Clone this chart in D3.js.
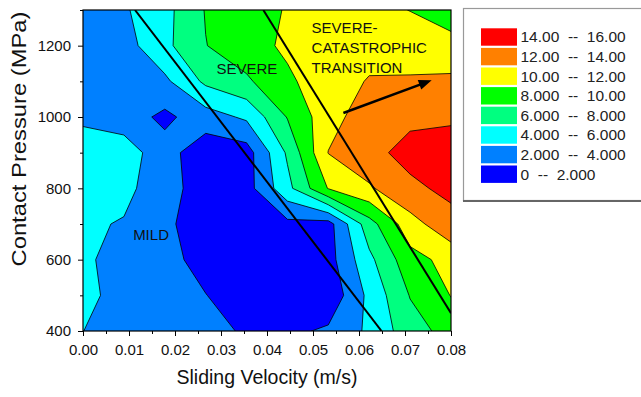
<!DOCTYPE html>
<html>
<head>
<meta charset="utf-8">
<script src="https://cdn.jsdelivr.net/npm/d3@7/dist/d3.min.js"></script>
<style>
  html, body { margin: 0; padding: 0; background: #ffffff; }
  svg { display: block; }
  text { font-family: Arial, "Liberation Sans", Helvetica, sans-serif; fill: #000; }
</style>
</head>
<body>
<svg id="chart" width="641" height="397"></svg>
<script>
// Sliding velocity (m/s) of each grid column
const velocities = [0, 0.00889, 0.01778, 0.02667, 0.03556, 0.04444, 0.05333, 0.06222, 0.07111, 0.08];
// Contact pressure (MPa) of each grid row
const pressures = [400, 500, 600, 700, 800, 900, 1000, 1100, 1200, 1300];
// Wear rate: one row per pressure (400 -> 1300), one column per velocity
const wear400  = [4.02, 3.00, 2.90, 2.60, 1.77, 1.55, 2.31, 4.37, 7.13, 8.77];
const wear500  = [4.75, 3.00, 2.90, 2.05, 0.80, 0.60, 0.50, 4.50, 8.10, 10.06];
const wear600  = [4.36, 3.20, 2.70, 1.21, 0.40, 0.50, 1.20, 5.50, 9.30, 10.65];
const wear700  = [4.45, 3.79, 2.50, 0.65, 0.50, 1.49, 1.20, 7.20, 11.20, 13.40];
const wear800  = [5.00, 4.80, 2.22, 1.73, 1.20, 5.40, 10.10, 11.73, 13.63, 14.43];
const wear900  = [5.10, 5.02, 2.80, 0.70, 1.10, 6.30, 12.05, 13.50, 14.56, 15.00];
const wear1000 = [3.60, 2.96, 1.55, 3.10, 4.34, 8.11, 11.26, 13.06, 13.63, 13.68];
const wear1100 = [3.20, 3.30, 3.60, 6.40, 7.70, 9.60, 11.30, 12.10, 12.15, 12.20];
const wear1200 = [3.00, 3.20, 5.50, 7.95, 9.10, 10.40, 10.90, 11.47, 11.32, 11.29];
const wear1300 = [3.20, 3.76, 5.37, 8.11, 9.30, 10.11, 10.50, 10.67, 9.95, 8.06];
const wearRows = [wear400, wear500, wear600, wear700, wear800, wear900, wear1000, wear1100, wear1200, wear1300];

// Contour levels and the fill of each band between them
const levels = [0, 2, 4, 6, 8, 10, 12, 14, 16];
const bandColors = ["#0000ff", "#0080ff", "#00ffff", "#00ff80", "#00ff00", "#ffff00", "#ff8000", "#ff0000"];
const legendLabels = ["14.00  --  16.00", "12.00  --  14.00", "10.00  --  12.00", "8.000  --  10.00",
                      "6.000  --  8.000", "4.000  --  6.000", "2.000  --  4.000", "0  --  2.000"];

// Axis ticks
const xTickValues = [0, 0.01, 0.02, 0.03, 0.04, 0.05, 0.06, 0.07, 0.08];
const xMinorValues = [0.005, 0.015, 0.025, 0.035, 0.045, 0.055, 0.065, 0.075];
const yTickValues = [400, 600, 800, 1000, 1200];
const yMinorValues = [500, 700, 900, 1100, 1300];

// Regime boundaries and annotations, in data units [velocity, pressure]
const mildSevereLine = [[0.0113, 1300], [0.0649, 400]];
const catastrophicLine = [[0.0392, 1300], [0.0800, 450]];
const transitionArrow = [[0.0566, 1011], [0.0758, 1103]];
const regionLabels = [
  { lines: ["SEVERE"], v: 0.0290, p: 1121 },
  { lines: ["MILD"], v: 0.0109, p: 654 },
  { lines: ["SEVERE-", "CATASTROPHIC", "TRANSITION"], v: 0.0497, p: 1235 }
];

const svg = d3.select("#chart");
const plot = { left: 83, right: 451, top: 10, bottom: 331 };
const x = d3.scaleLinear().domain([0, 0.08]).range([plot.left, plot.right]);
const y = d3.scaleLinear().domain([400, 1300]).range([plot.bottom, plot.top]);

// Grid sample i sits at contour coordinate i + 0.5
const nx = velocities.length, ny = pressures.length;
const colToV = d3.scaleLinear().domain(velocities.map((_, i) => i + 0.5)).range(velocities);
const rowToP = d3.scaleLinear().domain(pressures.map((_, j) => j + 0.5)).range(pressures);
const project = d3.geoTransform({
  point(u, w) { this.stream.point(x(colToV(u)), y(rowToP(w))); }
});
const path = d3.geoPath(project);

// Each contour encloses the area at or below its level (values negated for d3.contours)
const flat = [];
wearRows.forEach(row => row.forEach(v => flat.push(-v)));
const bands = d3.contours()
  .size([nx, ny])
  .thresholds(levels.slice(1).map(t => -t))(flat);

const defs = svg.append("defs");
defs.append("clipPath").attr("id", "plot-clip")
  .append("rect")
  .attr("x", plot.left).attr("y", plot.top)
  .attr("width", plot.right - plot.left).attr("height", plot.bottom - plot.top);

const gBands = svg.append("g").attr("clip-path", "url(#plot-clip)");
gBands.selectAll("path.band").data(bands).join("path")
  .attr("class", "band")
  .attr("d", path)
  .attr("fill", d => bandColors[levels.indexOf(-d.value) - 1])
  .attr("stroke", "#000")
  .attr("stroke-width", 0.8)
  .attr("stroke-linejoin", "round");

// Regime boundary lines
const line = d3.line().x(d => x(d[0])).y(d => y(d[1]));
const gNotes = svg.append("g").attr("clip-path", "url(#plot-clip)");
[mildSevereLine, catastrophicLine].forEach(seg => {
  gNotes.append("path").attr("d", line(seg))
    .attr("fill", "none").attr("stroke", "#000").attr("stroke-width", 2);
});

// Transition arrow
{
  const [a, b] = transitionArrow.map(d => [x(d[0]), y(d[1])]);
  const dx = b[0] - a[0], dy = b[1] - a[1];
  const len = Math.hypot(dx, dy);
  const ux = dx / len, uy = dy / len;
  const head = 13, half = 5;
  const base = [b[0] - ux * head, b[1] - uy * head];
  gNotes.append("line")
    .attr("x1", a[0]).attr("y1", a[1]).attr("x2", base[0] + ux * 2).attr("y2", base[1] + uy * 2)
    .attr("stroke", "#000").attr("stroke-width", 2.6);
  gNotes.append("path")
    .attr("d", `M${b[0]},${b[1]}L${base[0] - uy * half},${base[1] + ux * half}L${base[0] + uy * half},${base[1] - ux * half}Z`)
    .attr("fill", "#000");
}

// Region labels
regionLabels.forEach(lab => {
  const t = svg.append("text")
    .attr("x", x(lab.v)).attr("y", y(lab.p))
    .attr("font-size", 15).style("fill", "#111");
  lab.lines.forEach((s, i) => {
    t.append("tspan").attr("x", x(lab.v)).attr("dy", i === 0 ? 0 : 20).text(s);
  });
});

// Plot frame
svg.append("rect")
  .attr("x", plot.left).attr("y", plot.top)
  .attr("width", plot.right - plot.left).attr("height", plot.bottom - plot.top)
  .attr("fill", "none").attr("stroke", "#000").attr("stroke-width", 1.2);

// Axes
const styleAxis = g => {
  g.select(".domain").remove();
  g.selectAll(".tick line").attr("stroke", "#000").attr("stroke-width", 1);
  g.selectAll(".tick text").attr("font-size", 15).style("fill", "#111")
    .attr("font-family", "Arial, 'Liberation Sans', sans-serif");
};
svg.append("g").attr("transform", `translate(0,${plot.bottom})`)
  .call(d3.axisBottom(x).tickValues(xMinorValues).tickSize(3).tickFormat(""))
  .call(styleAxis);
svg.append("g").attr("transform", `translate(0,${plot.bottom})`)
  .call(d3.axisBottom(x).tickValues(xTickValues).tickSize(5).tickPadding(8).tickFormat(d3.format(".2f")))
  .call(styleAxis);
svg.append("g").attr("transform", `translate(${plot.left},0)`)
  .call(d3.axisLeft(y).tickValues(yMinorValues).tickSize(3).tickFormat(""))
  .call(styleAxis);
svg.append("g").attr("transform", `translate(${plot.left},0)`)
  .call(d3.axisLeft(y).tickValues(yTickValues).tickSize(5).tickPadding(7).tickFormat(d3.format("d")))
  .call(styleAxis);

// Axis titles
svg.append("text")
  .attr("x", (plot.left + plot.right) / 2).attr("y", 384)
  .attr("text-anchor", "middle").attr("font-size", 19.5).style("fill", "#111")
  .text("Sliding Velocity (m/s)");
svg.append("text")
  .attr("transform", "translate(26,139) rotate(-90)")
  .attr("text-anchor", "middle").attr("font-size", 19.5).style("fill", "#111")
  .attr("textLength", 255).attr("lengthAdjust", "spacingAndGlyphs")
  .text("Contact Pressure (MPa)");

// Legend
const legend = svg.append("g");
legend.append("rect")
  .attr("x", 463.5).attr("y", 8.5).attr("width", 200).attr("height", 192)
  .attr("fill", "#fff").attr("stroke", "#999").attr("stroke-width", 1.2);
legend.append("line")
  .attr("x1", 463).attr("x2", 641).attr("y1", 201).attr("y2", 201)
  .attr("stroke", "#666").attr("stroke-width", 2);
const legendColors = bandColors.slice().reverse();
legendLabels.forEach((lbl, i) => {
  const top = 28.3 + i * 19.6;
  legend.append("rect")
    .attr("x", 481).attr("y", top).attr("width", 36).attr("height", 17.4)
    .attr("fill", legendColors[i]);
  legend.append("text")
    .attr("x", 520.5).attr("y", top + 14)
    .attr("font-size", 15.5).style("fill", "#222")
    .attr("xml:space", "preserve").style("white-space", "pre")
    .text(lbl);
});
</script>
</body>
</html>
